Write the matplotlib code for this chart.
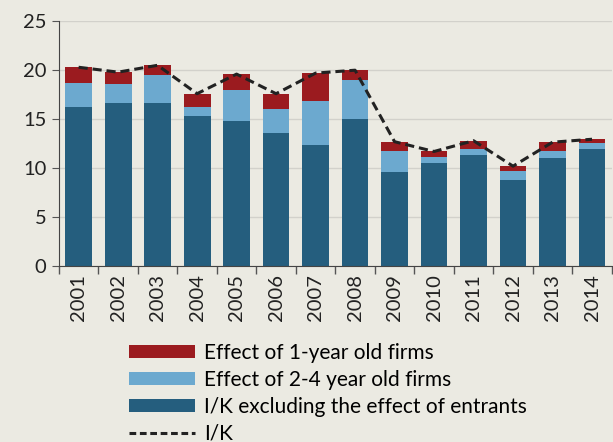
import matplotlib.pyplot as plt
import numpy as np

years = ["2001", "2002", "2003", "2004", "2005", "2006", "2007",
         "2008", "2009", "2010", "2011", "2012", "2013", "2014"]
# stacked components of the investment rate
excl_entrants = [16.2, 16.6, 16.6, 15.3, 14.8, 13.6, 12.4, 15.0, 9.6, 10.5, 11.3, 8.8, 11.0, 12.0]
young_2_4 = [2.5, 2.0, 2.9, 0.9, 3.2, 2.4, 4.5, 4.0, 2.2, 0.6, 0.7, 0.9, 0.8, 0.6]
young_1 = [1.6, 1.2, 1.0, 1.4, 1.6, 1.6, 2.8, 1.0, 0.9, 0.6, 0.8, 0.5, 0.85, 0.35]
ik = [20.3, 19.8, 20.5, 17.6, 19.6, 17.6, 19.7, 20.0, 12.7, 11.7, 12.8, 10.2, 12.65, 12.95]

bg = "#EBEAE2"
c_dark = "#255E7E"
c_light = "#6CA9CF"
c_red = "#9B1B1F"

plt.rcParams['font.family'] = ['Lato', 'DejaVu Sans']

fig = plt.figure(figsize=(6.13, 4.42), dpi=100, facecolor=bg)
ax = fig.add_axes([0.096, 0.398, 0.902, 0.554], facecolor=bg)

x = np.arange(len(years))
w = 0.68
b1 = ax.bar(x, excl_entrants, w, color=c_dark, zorder=2,
            label="I/K excluding the effect of entrants")
b2 = ax.bar(x, young_2_4, w, bottom=excl_entrants, color=c_light, zorder=2,
            label="Effect of 2-4 year old firms")
bottom3 = np.array(excl_entrants) + np.array(young_2_4)
b3 = ax.bar(x, young_1, w, bottom=bottom3, color=c_red, zorder=2,
            label="Effect of 1-year old firms")
ln, = ax.plot(x, ik, color="#222222", ls=(0, (3, 1.6)), lw=2.2, zorder=3, label="I/K")

ax.set_xlim(-0.5, len(years) - 0.5)
ax.set_ylim(0, 25)
ax.set_yticks(range(0, 26, 5))
ax.yaxis.grid(True, color="#D2D1CB", lw=1)
ax.set_axisbelow(True)

ax.set_xticks(x)
ax.set_xticklabels(years, rotation=90)
ax.set_xticks(np.arange(-0.5, len(years), 1), minor=True)
ax.tick_params(axis='x', which='major', length=0, pad=6, labelsize=14.5, colors="#222222")
ax.tick_params(axis='x', which='minor', length=6, color="#555555", width=1)
ax.tick_params(axis='y', length=5, color="#555555", labelsize=14.5, labelcolor="#222222", pad=4)

for s in ["top", "right"]:
    ax.spines[s].set_visible(False)
for s in ["left", "bottom"]:
    ax.spines[s].set_color("#444444")

leg = fig.legend([b3, b2, b1, ln],
                 ["Effect of 1-year old firms", "Effect of 2-4 year old firms",
                  "I/K excluding the effect of entrants", "I/K"],
                 loc="upper left", bbox_to_anchor=(0.21, 0.224), frameon=False,
                 fontsize=15, handlelength=3.2, handleheight=0.6, labelspacing=0.33,
                 handletextpad=0.4, borderpad=0, borderaxespad=0)
leg.get_lines()[0].set_dashes((2.2, 1.2))

fig.savefig("out.png", dpi=100, facecolor=bg)
